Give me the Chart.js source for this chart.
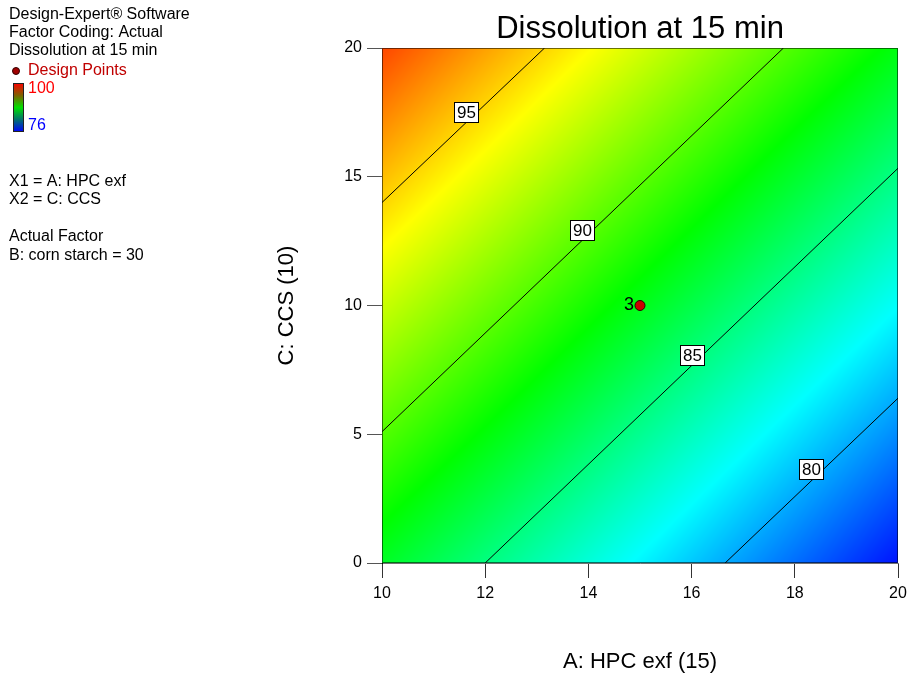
<!DOCTYPE html>
<html>
<head>
<meta charset="utf-8">
<script src="https://cdn.jsdelivr.net/npm/chart.js@4"></script>
<style>
  body { margin: 0; background: #fff; }
  canvas { display: block; }
</style>
</head>
<body>
<canvas id="my-chart" width="908" height="677"></canvas>
<script>
// response surface (Dissolution at 15 min)
const gridX = [10, 12.5, 15, 17.5, 20];   // A: HPC exf
const gridY = [0, 5, 10, 15, 20];         // C: CCS
const gridZ = [
  [87.15, 84.5, 81.8, 79.1, 76.45],   // y = 0
  [89.95, 87.3, 84.6, 81.9, 79.25],   // y = 5
  [92.75, 90.1, 87.4, 84.7, 82.05],   // y = 10
  [95.55, 92.9, 90.2, 87.5, 84.85],   // y = 15
  [98.35, 95.7, 93.0, 90.3, 87.65]    // y = 20
];
const zMin = 76;
const zMax = 100;

// contour lines
const contour95 = [{x: 10, y: 14.0}, {x: 13.15, y: 20}];
const contour90 = [{x: 10, y: 5.1}, {x: 17.78, y: 20}];
const contour85 = [{x: 12.0, y: 0}, {x: 20, y: 15.33}];
const contour80 = [{x: 16.65, y: 0}, {x: 20, y: 6.4}];
const contourLabels = ['95', '90', '85', '80'];
const contourLabelX = [11.63, 13.88, 16.01, 18.31];
const contourLabelY = [17.5, 12.93, 8.08, 3.65];

// design points
const designPoints = [{x: 15, y: 10}];
const designLabels = ['3'];

const xTicks = [10, 12, 14, 16, 18, 20];
const yTicks = [0, 5, 10, 15, 20];

const FONT = 'Arial, "Liberation Sans", sans-serif';

function rainbow(z) {
  let t = (z - zMin) / (zMax - zMin);
  t = Math.max(0, Math.min(1, t)) * 4;
  const stops = [[0, 0, 255], [0, 255, 255], [0, 255, 0], [255, 255, 0], [255, 0, 0]];
  const i = Math.min(3, Math.floor(t));
  const f = t - i;
  const a = stops[i], b = stops[i + 1];
  return [a[0] + (b[0] - a[0]) * f, a[1] + (b[1] - a[1]) * f, a[2] + (b[2] - a[2]) * f];
}

function findCell(arr, v) {
  for (let i = 0; i < arr.length - 2; i++) {
    if (v <= arr[i + 1]) return i;
  }
  return arr.length - 2;
}

function surface(x, y) {
  const i = findCell(gridX, x);
  const j = findCell(gridY, y);
  const fx = (x - gridX[i]) / (gridX[i + 1] - gridX[i]);
  const fy = (y - gridY[j]) / (gridY[j + 1] - gridY[j]);
  const z00 = gridZ[j][i], z10 = gridZ[j][i + 1];
  const z01 = gridZ[j + 1][i], z11 = gridZ[j + 1][i + 1];
  return (z00 * (1 - fx) + z10 * fx) * (1 - fy) + (z01 * (1 - fx) + z11 * fx) * fy;
}

const heatmap = {
  id: 'heatmap',
  beforeDatasetsDraw(chart) {
    const {ctx, chartArea, scales} = chart;
    const w = Math.round(chartArea.right - chartArea.left);
    const h = Math.round(chartArea.bottom - chartArea.top);
    const off = document.createElement('canvas');
    off.width = w; off.height = h;
    const octx = off.getContext('2d');
    const img = octx.createImageData(w, h);
    for (let py = 0; py < h; py++) {
      const yv = scales.y.getValueForPixel(chartArea.top + py + 0.5);
      for (let px = 0; px < w; px++) {
        const xv = scales.x.getValueForPixel(chartArea.left + px + 0.5);
        const c = rainbow(surface(xv, yv));
        const k = (py * w + px) * 4;
        img.data[k] = c[0]; img.data[k + 1] = c[1]; img.data[k + 2] = c[2]; img.data[k + 3] = 255;
      }
    }
    octx.putImageData(img, 0, 0);
    ctx.drawImage(off, chartArea.left, chartArea.top);
  },
  afterDatasetsDraw(chart) {
    const {ctx, chartArea, scales} = chart;
    ctx.save();
    // frame
    ctx.strokeStyle = 'rgba(0,0,0,0.55)';
    ctx.lineWidth = 1;
    ctx.strokeRect(chartArea.left + 0.5, chartArea.top + 0.5,
      chartArea.right - chartArea.left - 1, chartArea.bottom - chartArea.top - 1);
    // contour labels
    ctx.font = '17px ' + FONT;
    ctx.textAlign = 'center';
    ctx.textBaseline = 'middle';
    contourLabels.forEach((t, i) => {
      const px = Math.round(scales.x.getPixelForValue(contourLabelX[i]));
      const py = Math.round(scales.y.getPixelForValue(contourLabelY[i]));
      const tw = 24;
      ctx.fillStyle = '#fff';
      ctx.fillRect(px - tw / 2, py - 10, tw, 20);
      ctx.strokeStyle = '#000';
      ctx.strokeRect(px - tw / 2 + 0.5, py - 10 + 0.5, tw, 20);
      ctx.fillStyle = '#000';
      ctx.fillText(t, px + 0.5, py + 1);
    });
    // design point labels
    ctx.font = '18px ' + FONT;
    ctx.textAlign = 'right';
    designPoints.forEach((p, i) => {
      ctx.fillText(designLabels[i], scales.x.getPixelForValue(p.x) - 6, scales.y.getPixelForValue(p.y));
    });
    ctx.restore();
  },
  afterDraw(chart) {
    const {ctx, chartArea} = chart;
    ctx.save();
    ctx.fillStyle = '#000';
    // title
    ctx.font = '31px ' + FONT;
    ctx.textAlign = 'center';
    ctx.textBaseline = 'alphabetic';
    ctx.fillText('Dissolution at 15 min', (chartArea.left + chartArea.right) / 2, 38);
    // axis titles
    ctx.font = '22px ' + FONT;
    ctx.textBaseline = 'middle';
    ctx.fillText('A: HPC exf (15)', (chartArea.left + chartArea.right) / 2, 662);
    ctx.save();
    ctx.translate(287, (chartArea.top + chartArea.bottom) / 2);
    ctx.rotate(-Math.PI / 2);
    ctx.fillText('C: CCS (10)', 0, 0);
    ctx.restore();
    // side notes
    ctx.font = '16px ' + FONT;
    ctx.textAlign = 'left';
    ctx.fillText('Design-Expert® Software', 9, 15);
    ctx.fillText('Factor Coding: Actual', 9, 33);
    ctx.fillText('Dissolution at 15 min', 9, 51);
    ctx.fillStyle = '#c00000';
    ctx.fillText('Design Points', 28, 71);
    ctx.beginPath();
    ctx.arc(16, 71, 3.5, 0, Math.PI * 2);
    ctx.fillStyle = '#a00000';
    ctx.fill();
    ctx.strokeStyle = '#300';
    ctx.lineWidth = 1;
    ctx.stroke();
    const g = ctx.createLinearGradient(0, 83, 0, 132);
    g.addColorStop(0, '#ff0000');
    g.addColorStop(0.25, '#806000');
    g.addColorStop(0.5, '#00e000');
    g.addColorStop(0.75, '#007070');
    g.addColorStop(1, '#0000ff');
    ctx.fillStyle = g;
    ctx.fillRect(13, 83, 11, 49);
    ctx.strokeStyle = '#222';
    ctx.strokeRect(13.5, 83.5, 10, 48);
    ctx.fillStyle = '#ff0000';
    ctx.fillText('100', 28, 89);
    ctx.fillStyle = '#0000ff';
    ctx.fillText('76', 28, 126);
    ctx.fillStyle = '#000';
    ctx.fillText('X1 = A: HPC exf', 9, 182);
    ctx.fillText('X2 = C: CCS', 9, 200);
    ctx.fillText('Actual Factor', 9, 237);
    ctx.fillText('B: corn starch = 30', 9, 256);
    ctx.restore();
  }
};

const lineDs = (data) => ({
  type: 'scatter', data, showLine: true, borderColor: '#000', borderWidth: 1,
  pointRadius: 0, fill: false
});

const ctx = document.getElementById('my-chart').getContext('2d');
const chart = new Chart(ctx, {
  type: 'scatter',
  data: {
    datasets: [
      lineDs(contour95),
      lineDs(contour90),
      lineDs(contour85),
      lineDs(contour80),
      {
        data: designPoints,
        pointRadius: 5,
        pointBackgroundColor: '#cc0000',
        pointBorderColor: '#300000',
        pointBorderWidth: 1
      }
    ]
  },
  options: {
    responsive: false,
    animation: false,
    layout: { padding: { left: 0, right: 0, top: 48, bottom: 0 } },
    plugins: { legend: { display: false }, tooltip: { enabled: false } },
    scales: {
      x: {
        type: 'linear', min: 10, max: 20,
        afterBuildTicks: s => { s.ticks = xTicks.map(v => ({value: v})); },
        afterFit: s => { s.height = 114; s.paddingLeft = 0; s.paddingRight = 10; },
        grid: { drawOnChartArea: false, tickLength: 15, color: '#333' },
        border: { color: 'rgba(0,0,0,0.55)' },
        ticks: { color: '#000', padding: 6, font: { size: 16, family: FONT } }
      },
      y: {
        type: 'linear', min: 0, max: 20,
        afterBuildTicks: s => { s.ticks = yTicks.map(v => ({value: v})); },
        afterFit: s => { s.width = 382; s.paddingTop = 0; s.paddingBottom = 0; },
        grid: { drawOnChartArea: false, tickLength: 15, color: '#555' },
        border: { color: '#000' },
        ticks: { color: '#000', padding: 5, font: { size: 16, family: FONT } }
      }
    }
  },
  plugins: [heatmap]
});
</script>
</body>
</html>
